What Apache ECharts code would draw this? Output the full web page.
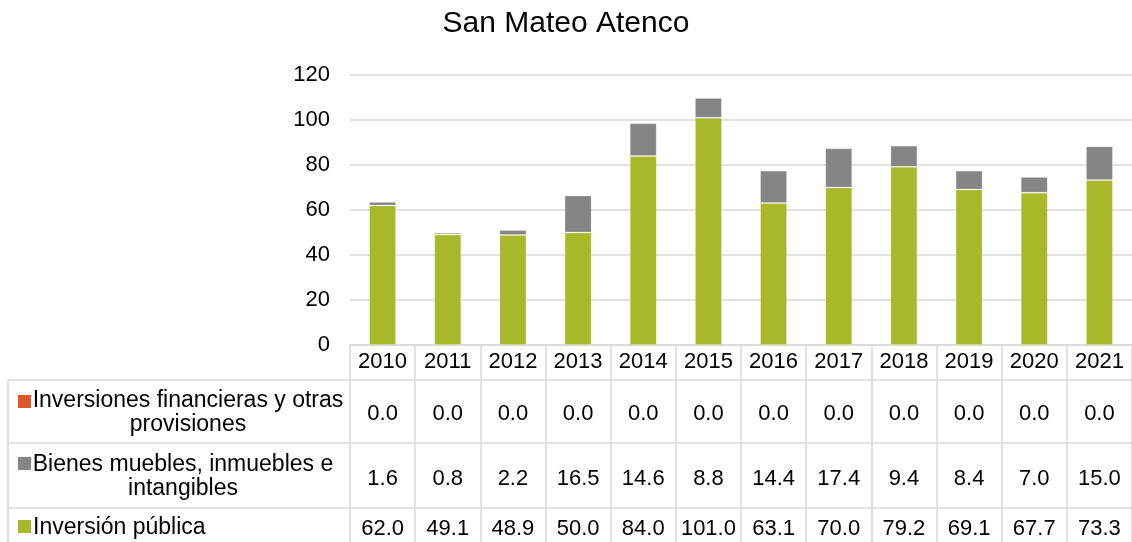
<!DOCTYPE html>
<html>
<head>
<meta charset="utf-8">
<script src="https://cdn.jsdelivr.net/npm/echarts@6/dist/echarts.min.js"></script>
<style>
  html, body { margin: 0; padding: 0; background: #fff; }
  #chart { width: 1132px; height: 542px; }
</style>
</head>
<body>
<div id="chart"></div>
<script>
var years = ['2010', '2011', '2012', '2013', '2014', '2015', '2016', '2017', '2018', '2019', '2020', '2021'];
var inversionesFin = [0.0, 0.0, 0.0, 0.0, 0.0, 0.0, 0.0, 0.0, 0.0, 0.0, 0.0, 0.0];
var bienes = [1.6, 0.8, 2.2, 16.5, 14.6, 8.8, 14.4, 17.4, 9.4, 8.4, 7.0, 15.0];
var inversionPub = [62.0, 49.1, 48.9, 50.0, 84.0, 101.0, 63.1, 70.0, 79.2, 69.1, 67.7, 73.3];
var seriesNames = ['Inversiones financieras y otras\nprovisiones', 'Bienes muebles, inmuebles e\nintangibles', 'Inversión pública'];
var yTicks = [0, 20, 40, 60, 80, 100, 120];

var FONT = '"Liberation Sans", Arial, sans-serif';
var LINE = '#d9d9d9';
var colors = { fin: '#e0552b', bienes: '#858585', pub: '#a7b82a' };

// table geometry (grid bottom = top of year row)
var gridLeft = 350, gridTop = 75, gridBottom = 197;
var axisY = 542 - gridBottom;            // 345
var rowLines = [380, 443, 508];          // horizontal table lines

var chart = echarts.init(document.getElementById('chart'));

function fmt(arr) {
  return function (v, i) { return arr[i].toFixed(1); };
}

function tableAxis(offset, margin, arr) {
  return {
    type: 'category',
    data: years,
    position: 'bottom',
    offset: offset,
    axisLine: { show: true, lineStyle: { color: LINE, width: 1.5 } },
    axisTick: { show: false },
    splitLine: { show: false },
    axisLabel: {
      interval: 0, margin: margin, verticalAlign: 'middle',
      color: '#000', fontSize: 22, fontFamily: FONT,
      formatter: fmt(arr)
    }
  };
}

var graphics = [];
// horizontal lines in the label column
rowLines.forEach(function (y) {
  graphics.push({ type: 'line', shape: { x1: 8, y1: y, x2: gridLeft, y2: y }, style: { stroke: LINE, lineWidth: 1.5 } });
});
graphics.push({ type: 'line', shape: { x1: 8, y1: rowLines[0], x2: 8, y2: 542 }, style: { stroke: LINE, lineWidth: 1.5 } });

// row labels with legend keys
var rowLabels = [
  { name: seriesNames[0], color: colors.fin, keyY: 395, x: 188, y: 413, align: 'center' },
  { name: seriesNames[1], color: colors.bienes, keyY: 457, x: 183, y: 477, align: 'center' },
  { name: seriesNames[2], color: colors.pub, keyY: 520, x: 33, y: 528, align: 'left' }
];
rowLabels.forEach(function (r) {
  graphics.push({ type: 'rect', shape: { x: 18, y: r.keyY, width: 13, height: 13 }, style: { fill: r.color } });
  graphics.push({
    type: 'text', x: r.x, y: r.y,
    style: { text: r.name, fill: '#000', font: '23px ' + FONT, textAlign: r.align, textVerticalAlign: 'middle', lineHeight: 24 }
  });
});

chart.setOption({
  animation: false,
  title: {
    text: 'San Mateo Atenco',
    left: 'center',
    top: 4,
    textStyle: { fontSize: 30, fontWeight: 'normal', color: '#000', fontFamily: FONT }
  },
  grid: { left: gridLeft, right: 0, top: gridTop, bottom: gridBottom },
  xAxis: [
    {
      type: 'category',
      data: years,
      position: 'bottom',
      axisLine: { show: true, lineStyle: { color: LINE, width: 1.5 } },
      axisTick: { show: true, interval: 0, length: gridBottom, lineStyle: { color: LINE, width: 1.5 } },
      axisLabel: { interval: 0, margin: 17, verticalAlign: 'middle', color: '#000', fontSize: 22, fontFamily: FONT }
    },
    tableAxis(rowLines[0] - axisY, 33.5, inversionesFin),
    tableAxis(rowLines[1] - axisY, 35.5, bienes),
    tableAxis(rowLines[2] - axisY, 20.5, inversionPub)
  ],
  yAxis: {
    type: 'value',
    min: yTicks[0],
    max: yTicks[yTicks.length - 1],
    interval: 20,
    axisLine: { show: false },
    axisTick: { show: false },
    splitLine: { lineStyle: { color: LINE, width: 1.5 } },
    axisLabel: { margin: 20, color: '#000', fontSize: 22, fontFamily: FONT }
  },
  series: [
    {
      name: seriesNames[2], type: 'bar', stack: 'total', barWidth: 27,
      itemStyle: { color: colors.pub, borderColor: 'rgba(255,255,255,0.2)', borderWidth: 1 },
      data: inversionPub
    },
    {
      name: seriesNames[1], type: 'bar', stack: 'total', barWidth: 27,
      itemStyle: { color: colors.bienes, borderColor: 'rgba(255,255,255,0.2)', borderWidth: 1 },
      data: bienes
    },
    {
      name: seriesNames[0], type: 'bar', stack: 'total', barWidth: 27,
      itemStyle: { color: colors.fin },
      data: inversionesFin
    }
  ],
  graphic: graphics
});
</script>
</body>
</html>
